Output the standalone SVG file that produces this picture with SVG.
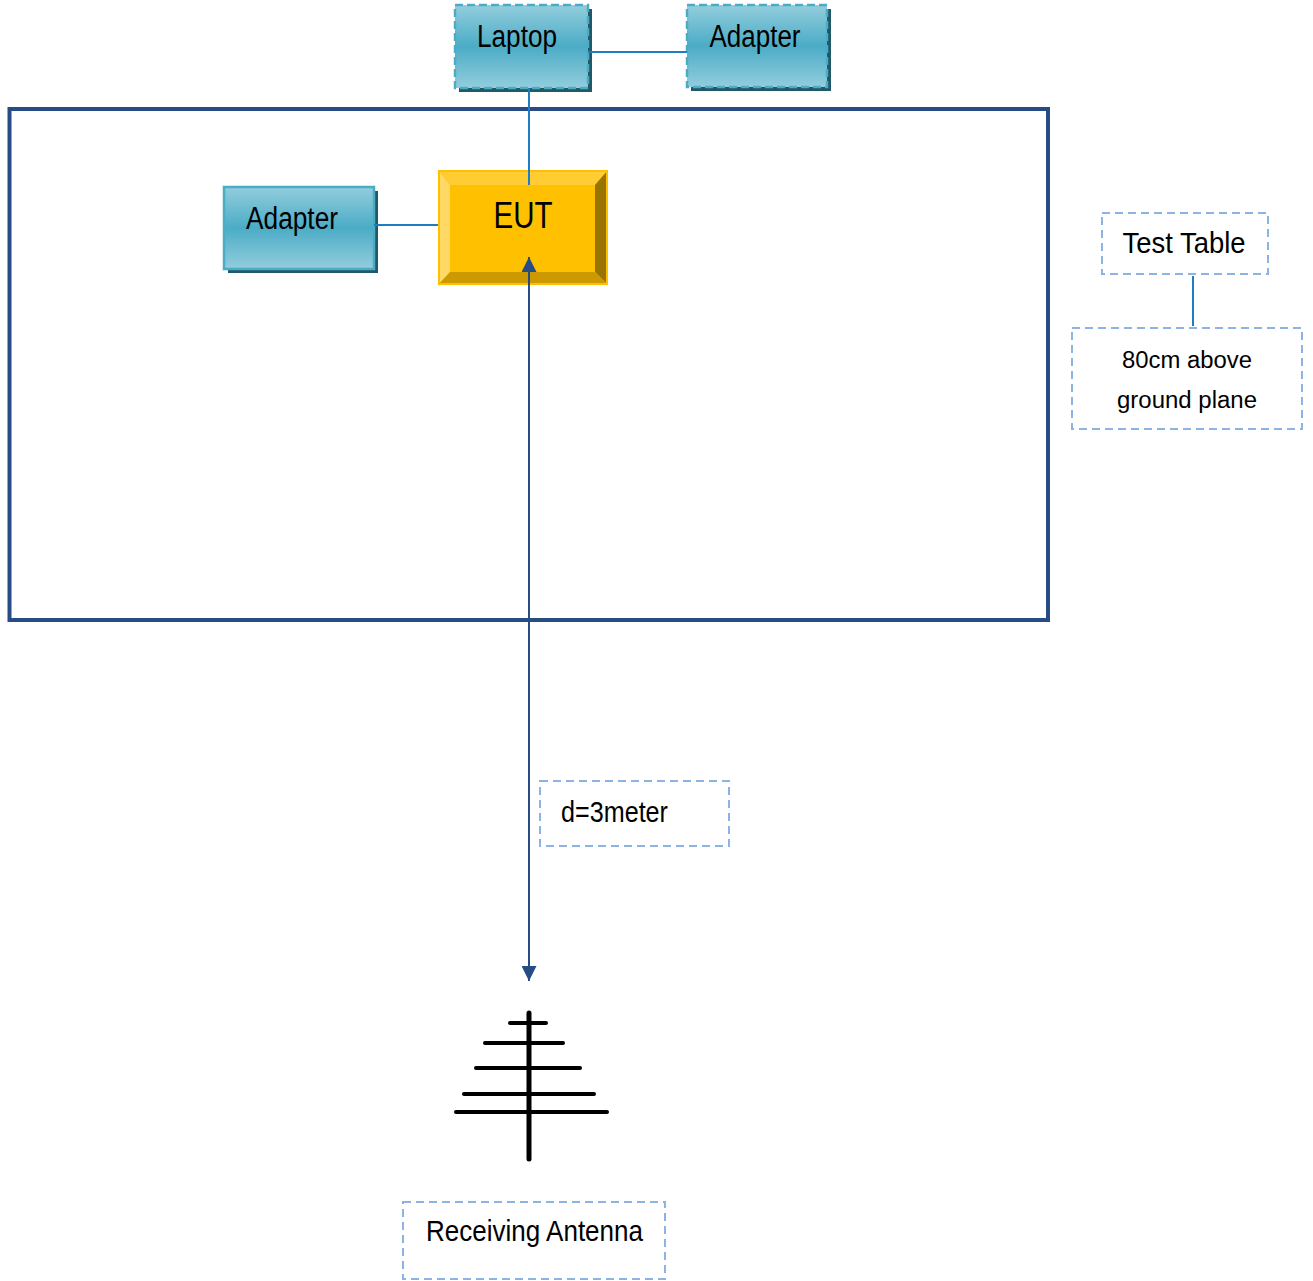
<svg xmlns="http://www.w3.org/2000/svg" width="1313" height="1281" viewBox="0 0 1313 1281">
<defs>
<linearGradient id="teal" x1="0" y1="0" x2="0" y2="1">
<stop offset="0" stop-color="#93CDDD"/>
<stop offset="0.5" stop-color="#4BACC6"/>
<stop offset="1" stop-color="#93CDDD"/>
</linearGradient>
<marker id="ah" viewBox="0 0 10 10" refX="10" refY="5" markerWidth="15" markerHeight="15" markerUnits="userSpaceOnUse" orient="auto-start-reverse">
<path d="M0,0 L10,5 L0,10 Z" fill="#264C83"/>
</marker>
<style>
.lbl{font-family:"Liberation Sans",Arial,sans-serif;fill:#000;}
.dash{fill:none;stroke:#8DB3E2;stroke-width:2;stroke-dasharray:8 5;}
.shadow{fill:#215968;}
.wire{fill:none;stroke:#1F7DC6;stroke-width:2;}
.ant{stroke:#000;stroke-linecap:round;fill:none;}
</style>
</defs>
<rect width="1313" height="1281" fill="#fff"/>

<g id="test-table">
<rect x="9.5" y="109" width="1038.5" height="511" fill="none" stroke="#264C83" stroke-width="4"/>
</g>

<g id="laptop">
<rect class="shadow" x="459" y="9" width="133" height="83"/>
<rect x="455" y="5" width="133" height="83" fill="url(#teal)" stroke="#4BACC6" stroke-width="2.5" stroke-dasharray="8 4"/>
<text class="lbl" x="517" y="47" font-size="31" text-anchor="middle" textLength="80" lengthAdjust="spacingAndGlyphs">Laptop</text>
</g>

<g id="adapter-top">
<rect class="shadow" x="691" y="9" width="140" height="82"/>
<rect x="687" y="5" width="140" height="82" fill="url(#teal)" stroke="#4BACC6" stroke-width="2.5" stroke-dasharray="8 4"/>
<text class="lbl" x="755" y="47" font-size="31" text-anchor="middle" textLength="91" lengthAdjust="spacingAndGlyphs">Adapter</text>
</g>

<g id="adapter-left">
<rect class="shadow" x="228" y="191" width="150" height="82"/>
<rect x="224" y="187" width="150" height="82" fill="url(#teal)" stroke="#4BACC6" stroke-width="2.5"/>
<text class="lbl" x="292" y="229" font-size="31" text-anchor="middle" textLength="92" lengthAdjust="spacingAndGlyphs">Adapter</text>
</g>

<g id="eut">
<rect x="438" y="170" width="170" height="115" fill="#FFC000"/>
<polygon points="438,170 608,170 595,185 450,185" fill="#FFCD33"/>
<polygon points="438,170 450,185 450,272 438,285" fill="#FFD966"/>
<polygon points="608,170 608,285 595,272 595,185" fill="#997400"/>
<polygon points="438,285 608,285 595,272 450,272" fill="#CC9A00"/>
<rect x="439" y="171" width="168" height="113" fill="none" stroke="#FFC000" stroke-width="2"/>
<text class="lbl" x="523" y="228" font-size="36" text-anchor="middle" textLength="59" lengthAdjust="spacingAndGlyphs">EUT</text>
</g>

<g id="test-table-label">
<rect class="dash" x="1102" y="213" width="166" height="61"/>
<text class="lbl" x="1184" y="253" font-size="30" text-anchor="middle" textLength="123" lengthAdjust="spacingAndGlyphs">Test Table</text>
</g>

<g id="height-label">
<rect class="dash" x="1072" y="328" width="230" height="101"/>
<text class="lbl" x="1187" y="368" font-size="23" text-anchor="middle" textLength="130" lengthAdjust="spacingAndGlyphs">80cm above</text>
<text class="lbl" x="1187" y="408" font-size="23" text-anchor="middle" textLength="140" lengthAdjust="spacingAndGlyphs">ground plane</text>
</g>

<g id="distance-label">
<rect class="dash" x="540" y="781" width="189" height="65"/>
<text class="lbl" x="561" y="822" font-size="29" textLength="107" lengthAdjust="spacingAndGlyphs">d=3meter</text>
</g>

<g id="antenna">
<line class="ant" x1="529" y1="1013" x2="529" y2="1159" stroke-width="5"/>
<line class="ant" x1="510" y1="1023" x2="546" y2="1023" stroke-width="4"/>
<line class="ant" x1="485" y1="1043" x2="563" y2="1043" stroke-width="4"/>
<line class="ant" x1="476" y1="1068" x2="580" y2="1068" stroke-width="4"/>
<line class="ant" x1="464" y1="1094" x2="594" y2="1094" stroke-width="4"/>
<line class="ant" x1="456" y1="1112" x2="607" y2="1112" stroke-width="4"/>
</g>

<g id="antenna-label">
<rect class="dash" x="403" y="1202" width="262" height="77"/>
<text class="lbl" x="426" y="1241" font-size="30" textLength="217" lengthAdjust="spacingAndGlyphs">Receiving Antenna</text>
</g>

<g id="connectors">
<line class="wire" x1="588" y1="52" x2="687" y2="52"/>
<line class="wire" x1="529" y1="88" x2="529" y2="185"/>
<line class="wire" x1="374" y1="225" x2="438" y2="225"/>
<line x1="529" y1="257" x2="529" y2="981" stroke="#264C83" stroke-width="2" marker-start="url(#ah)" marker-end="url(#ah)"/>
<line class="wire" x1="1193" y1="276" x2="1193" y2="326"/>
</g>
</svg>
